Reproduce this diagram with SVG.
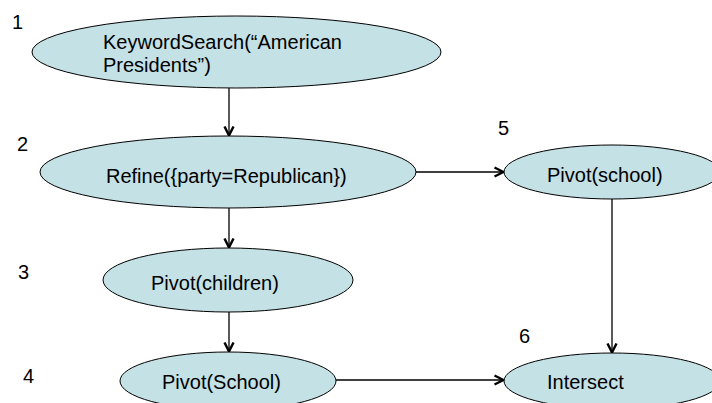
<svg xmlns="http://www.w3.org/2000/svg" width="712" height="403" viewBox="0 0 712 403">
<defs>
<style>
.node ellipse{fill:#c4e1e6;stroke:#000;stroke-width:1}
text{font-family:"Liberation Sans",Arial,sans-serif;font-size:20px;fill:#000}
.conn line{stroke:#000;stroke-width:1.3;fill:none}
</style>
<marker id="arr" markerWidth="12" markerHeight="12" viewBox="0 0 12 12" refX="10.5" refY="6" orient="auto" markerUnits="userSpaceOnUse">
<path d="M1,1.5 L10,6 L1,10.5" fill="none" stroke="#000" stroke-width="2.4"/>
</marker>
</defs>
<rect width="712" height="403" fill="#fff"/>
<g id="connectors" class="conn">
<line x1="229" y1="88" x2="229" y2="136" marker-end="url(#arr)"/>
<line x1="416" y1="172" x2="504" y2="172" marker-end="url(#arr)"/>
<line x1="229" y1="208" x2="229" y2="248" marker-end="url(#arr)"/>
<line x1="229" y1="312" x2="229" y2="352" marker-end="url(#arr)"/>
<line x1="612" y1="199" x2="612" y2="353" marker-end="url(#arr)"/>
<line x1="336" y1="380" x2="504" y2="380" marker-end="url(#arr)"/>
</g>
<g id="n1" class="node">
<ellipse cx="236.5" cy="52" rx="204.5" ry="36"/>
<text x="103" y="49">KeywordSearch(“American</text>
<text x="103" y="72">Presidents”)</text>
</g>
<g id="n2" class="node">
<ellipse cx="228" cy="172" rx="188" ry="36"/>
<text x="106" y="183">Refine({party=Republican})</text>
</g>
<g id="n5" class="node">
<ellipse cx="612" cy="172" rx="108" ry="27"/>
<text x="547" y="182">Pivot(school)</text>
</g>
<g id="n3" class="node">
<ellipse cx="228" cy="280" rx="125" ry="32"/>
<text x="151" y="290">Pivot(children)</text>
</g>
<g id="n4" class="node">
<ellipse cx="228" cy="381" rx="108" ry="29"/>
<text x="162" y="389">Pivot(School)</text>
</g>
<g id="n6" class="node">
<ellipse cx="612" cy="381" rx="108" ry="28"/>
<text x="547" y="389">Intersect</text>
</g>
<g id="labels">
<text x="12" y="29">1</text>
<text x="17" y="151">2</text>
<text x="18" y="279">3</text>
<text x="23" y="383">4</text>
<text x="498" y="135">5</text>
<text x="519" y="343">6</text>
</g>
</svg>
